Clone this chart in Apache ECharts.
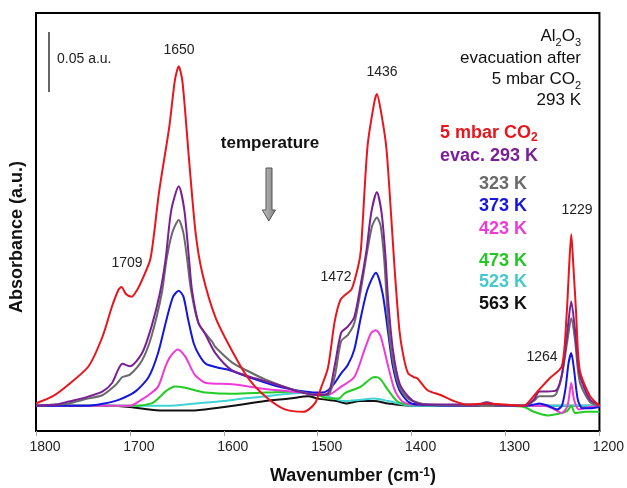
<!DOCTYPE html>
<html>
<head>
<meta charset="utf-8">
<script src="https://cdn.jsdelivr.net/npm/echarts@6/dist/echarts.min.js"></script>
<style>
  html, body { margin: 0; background: #fff; }
  #main { width: 627px; height: 488px; }
</style>
</head>
<body>
<div id="main"></div>
<script>
// spectra, [wavenumber cm-1, absorbance a.u.]
var red = [[1800,0.002],[1782,0.008],[1765,0.018],[1744,0.033],[1729,0.058],[1719,0.083],[1712,0.097],[1709,0.099],[1704,0.093],[1698,0.091],[1692,0.097],[1687,0.105],[1678,0.123],[1669,0.178],[1658,0.233],[1652,0.272],[1648,0.283],[1644,0.27],[1637,0.205],[1630,0.144],[1623,0.111],[1609,0.074],[1592,0.047],[1574,0.023],[1556,0.008],[1535,-0.003],[1515,-0.005],[1503,0.002],[1496,0.016],[1489,0.032],[1482,0.07],[1476,0.088],[1470,0.093],[1464,0.097],[1457,0.116],[1454,0.13],[1447,0.216],[1440,0.252],[1437,0.26],[1433,0.247],[1427,0.216],[1422,0.161],[1418,0.113],[1413,0.063],[1409,0.0425],[1404,0.0275],[1398,0.024],[1394,0.023],[1383,0.013],[1369,0.009],[1355,0.004],[1341,0.001],[1320,0.002],[1300,0.001],[1281,0],[1267,0.011],[1253,0.023],[1240,0.033],[1235,0.075],[1232,0.12],[1230,0.143],[1228,0.12],[1225,0.08],[1221,0.03],[1210,0.008],[1200,0]];
var evac293 = [[1800,0],[1790,0.0005],[1779,0.001],[1765,0.0036],[1747,0.007],[1729,0.012],[1719,0.019],[1712,0.031],[1708,0.035],[1700,0.033],[1687,0.044],[1677,0.066],[1668,0.094],[1662,0.122],[1656,0.163],[1648,0.183],[1642,0.163],[1637,0.122],[1634,0.097],[1627,0.069],[1620,0.06],[1609,0.044],[1592,0.03],[1575,0.025],[1549,0.019],[1521,0.012],[1503,0.009],[1489,0.0105],[1482,0.033],[1475,0.061],[1468,0.066],[1461,0.074],[1454,0.102],[1448,0.13],[1443,0.161],[1437,0.178],[1432,0.161],[1428,0.126],[1425,0.088],[1420,0.047],[1413,0.019],[1404,0.008],[1394,0.002],[1383,0.001],[1330,0.001],[1320,0.003],[1310,0.001],[1280,0],[1270,0.005],[1264,0.012],[1256,0.012],[1246,0.013],[1240,0.026],[1234,0.063],[1230,0.087],[1226,0.063],[1221,0.026],[1210,0.005],[1200,0.001]];
var k323 = [[1800,0],[1780,0.001],[1765,0.002],[1747,0.0056],[1729,0.009],[1715,0.0175],[1708,0.024],[1700,0.026],[1687,0.038],[1677,0.058],[1666,0.094],[1661,0.122],[1655,0.144],[1648,0.155],[1643,0.144],[1639,0.122],[1635,0.097],[1627,0.069],[1612,0.053],[1609,0.049],[1591,0.036],[1577,0.03],[1556,0.022],[1524,0.013],[1500,0.009],[1489,0.009],[1482,0.024],[1475,0.054],[1468,0.059],[1461,0.069],[1454,0.097],[1447,0.13],[1442,0.15],[1437,0.157],[1433,0.15],[1429,0.12],[1425,0.07],[1420,0.038],[1413,0.016],[1404,0.006],[1383,0.001],[1280,0],[1270,0.004],[1264,0.008],[1250,0.008],[1246,0.01],[1240,0.025],[1234,0.055],[1230,0.073],[1226,0.055],[1221,0.02],[1210,0.003],[1200,0]];
var k373 = [[1800,0],[1747,0],[1729,0.0017],[1712,0.005],[1694,0.012],[1680,0.024],[1670,0.044],[1661,0.072],[1654,0.091],[1648,0.096],[1643,0.091],[1638,0.072],[1632,0.052],[1626,0.042],[1619,0.035],[1607,0.032],[1595,0.03],[1570,0.023],[1542,0.016],[1514,0.012],[1496,0.011],[1489,0.013],[1482,0.019],[1475,0.027],[1468,0.034],[1461,0.047],[1454,0.074],[1447,0.097],[1438,0.111],[1431,0.094],[1425,0.061],[1420,0.033],[1413,0.013],[1404,0.0036],[1394,0.001],[1330,0],[1320,0.002],[1310,0],[1280,0],[1270,0.001],[1264,0.002],[1255,0],[1245,-0.003],[1240,0],[1236,0.015],[1233,0.035],[1230,0.044],[1227,0.03],[1223,0.005],[1218,-0.002],[1210,-0.002],[1200,-0.001]];
var k423 = [[1800,0],[1700,0],[1688,0.005],[1680,0.009],[1670,0.016],[1662,0.033],[1657,0.041],[1649,0.047],[1641,0.041],[1634,0.03],[1630,0.025],[1619,0.019],[1591,0.018],[1556,0.014],[1514,0.011],[1489,0.009],[1475,0.016],[1461,0.024],[1450,0.047],[1443,0.061],[1438,0.063],[1433,0.058],[1425,0.033],[1418,0.013],[1410,0.0036],[1397,0.001],[1280,0],[1260,0],[1250,-0.002],[1240,-0.006],[1234,0],[1230,0.019],[1227,0.005],[1222,-0.003],[1210,-0.001],[1200,0]];
var k473 = [[1800,0],[1694,0],[1677,0.002],[1670,0.006],[1662,0.012],[1652,0.016],[1641,0.015],[1631,0.013],[1619,0.011],[1591,0.01],[1556,0.011],[1521,0.012],[1500,0.009],[1488,0.006],[1478,0.006],[1471,0.0106],[1454,0.016],[1443,0.023],[1438,0.024],[1433,0.022],[1425,0.013],[1415,0.0036],[1401,0.001],[1300,0],[1280,-0.001],[1270,-0.005],[1255,-0.008],[1240,-0.006],[1234,-0.004],[1230,0],[1226,-0.006],[1215,-0.005],[1200,-0.005]];
var k523 = [[1800,0],[1720,0],[1660,0],[1630,0.002],[1600,0.004],[1580,0.006],[1555,0.008],[1530,0.01],[1510,0.011],[1490,0.008],[1472,0.004],[1455,0.005],[1440,0.006],[1425,0.004],[1400,0],[1200,0]];
var k563 = [[1800,0],[1720,0],[1700,-0.001],[1690,-0.002],[1665,-0.004],[1640,-0.004],[1620,-0.003],[1590,0],[1556,0.004],[1530,0.006],[1510,0.008],[1500,0.006],[1480,0.004],[1470,0.002],[1455,0.004],[1440,0.004],[1425,0.002],[1400,0],[1200,0]];

var xTicks = [1800, 1700, 1600, 1500, 1400, 1300, 1200];
var peakLabels = ['1650', '1709', '1436', '1472', '1264', '1229'];

var FF = "'Liberation Sans', Arial, sans-serif";
var chart = echarts.init(document.getElementById('main'));

function mkSeries(name, data, color) {
  return {
    name: name, type: 'line', data: data, smooth: 0.25,
    showSymbol: false, animation: false,
    lineStyle: { color: color, width: 2 }
  };
}

// rich styles for sub / superscripts
function rich(size, weight, color) {
  return {
    n: { fontFamily: FF, fontSize: size, fontWeight: weight, fill: color, lineHeight: 20, verticalAlign: 'top' },
    s: { fontFamily: FF, fontSize: Math.round(size * 0.65), fontWeight: weight, fill: color, lineHeight: 8, verticalAlign: 'bottom' },
    u: { fontFamily: FF, fontSize: Math.round(size * 0.65), fontWeight: weight, fill: color, lineHeight: 8, verticalAlign: 'top' }
  };
}
function txt(x, y, text, opt) {
  opt = opt || {};
  return {
    type: 'text', x: x, y: y, rotation: opt.rot || 0,
    style: {
      text: text,
      fill: opt.color || '#222',
      font: (opt.weight || 'normal') + ' ' + (opt.size || 14) + 'px ' + FF,
      textAlign: opt.align || 'center',
      verticalAlign: 'middle',
      rich: opt.rich
    }
  };
}

var legendItems = [
  { t: '{n|5 mbar CO}{s|2}', c: '#e8161c', x: 440, y: 134 },
  { t: '{n|evac. 293 K}', c: '#7a1f96', x: 440, y: 157 },
  { t: '{n|323 K}', c: '#6a6a6a', x: 479, y: 185 },
  { t: '{n|373 K}', c: '#1515e0', x: 479, y: 207 },
  { t: '{n|423 K}', c: '#ee3ad8', x: 479, y: 230 },
  { t: '{n|473 K}', c: '#22c822', x: 479, y: 262 },
  { t: '{n|523 K}', c: '#45c9cc', x: 479, y: 283 },
  { t: '{n|563 K}', c: '#111111', x: 479, y: 305 }
];

var graphics = [
  txt(17, 237, 'Absorbance (a.u.)', { weight: 'bold', size: 18, rot: Math.PI / 2, color: '#111' }),
  txt(353, 477, '{n|Wavenumber (cm}{u|-1}{n|)}', { rich: rich(18, 'bold', '#111') }),
  { type: 'line', shape: { x1: 49, y1: 32, x2: 49, y2: 92 }, style: { stroke: '#333', lineWidth: 1.5 } },
  txt(57, 59, '0.05 a.u.', { align: 'left', size: 14 }),
  txt(179, 50, peakLabels[0]),
  txt(127, 263, peakLabels[1]),
  txt(382, 72, peakLabels[2]),
  txt(336, 277, peakLabels[3]),
  txt(542, 357, peakLabels[4]),
  txt(577, 210, peakLabels[5]),
  txt(270, 143, 'temperature', { weight: 'bold', size: 17, color: '#111' }),
  {
    type: 'polygon',
    shape: { points: [[266, 168], [272, 168], [272, 210], [275.5, 210], [268.8, 221], [262.3, 210], [266, 210]] },
    style: {
      fill: new echarts.graphic.LinearGradient(0, 0, 1, 0, [
        { offset: 0, color: '#c8c8c8' }, { offset: 1, color: '#7a7a7a' }
      ]),
      stroke: '#555', lineWidth: 1
    }
  },
  txt(581, 38, '{n|Al}{s|2}{n|O}{s|3}', { align: 'right', rich: rich(17, 'normal', '#111') }),
  txt(581, 60, '{n|evacuation after}', { align: 'right', rich: rich(17, 'normal', '#111') }),
  txt(581, 81, '{n|5 mbar CO}{s|2}', { align: 'right', rich: rich(17, 'normal', '#111') }),
  txt(581, 102, '{n|293 K}', { align: 'right', rich: rich(17, 'normal', '#111') })
];
legendItems.forEach(function (it) {
  graphics.push(txt(it.x, it.y, it.t, { align: 'left', rich: rich(18, 'bold', it.c) }));
});

chart.setOption({
  animation: false,
  backgroundColor: '#fff',
  textStyle: { fontFamily: FF },
  grid: { left: 36, right: 24, top: 13, bottom: 57, show: true, borderColor: '#000', borderWidth: 2 },
  xAxis: {
    type: 'value', min: xTicks[6], max: xTicks[0], interval: 100, inverse: true,
    axisLine: { show: true, onZero: false, lineStyle: { color: '#000', width: 2 } },
    axisTick: { show: true, length: 5, lineStyle: { color: '#aaa' } },
    axisLabel: {
      fontSize: 14, color: '#222', margin: 9, padding: [0, 0, 0, 18],
      formatter: function (v) { return String(v); }
    },
    splitLine: { show: false }
  },
  yAxis: { type: 'value', min: -0.021, max: 0.3275, show: false, splitLine: { show: false } },
  series: [
    mkSeries('563 K', k563, '#111111'),
    mkSeries('523 K', k523, '#3fd3d3'),
    mkSeries('473 K', k473, '#22cc22'),
    mkSeries('423 K', k423, '#ee3ad8'),
    mkSeries('373 K', k373, '#1515e0'),
    mkSeries('323 K', k323, '#6a6a6a'),
    mkSeries('evac. 293 K', evac293, '#7a1f96'),
    mkSeries('5 mbar CO2', red, '#e8161c')
  ],
  graphic: graphics
});
</script>
</body>
</html>
